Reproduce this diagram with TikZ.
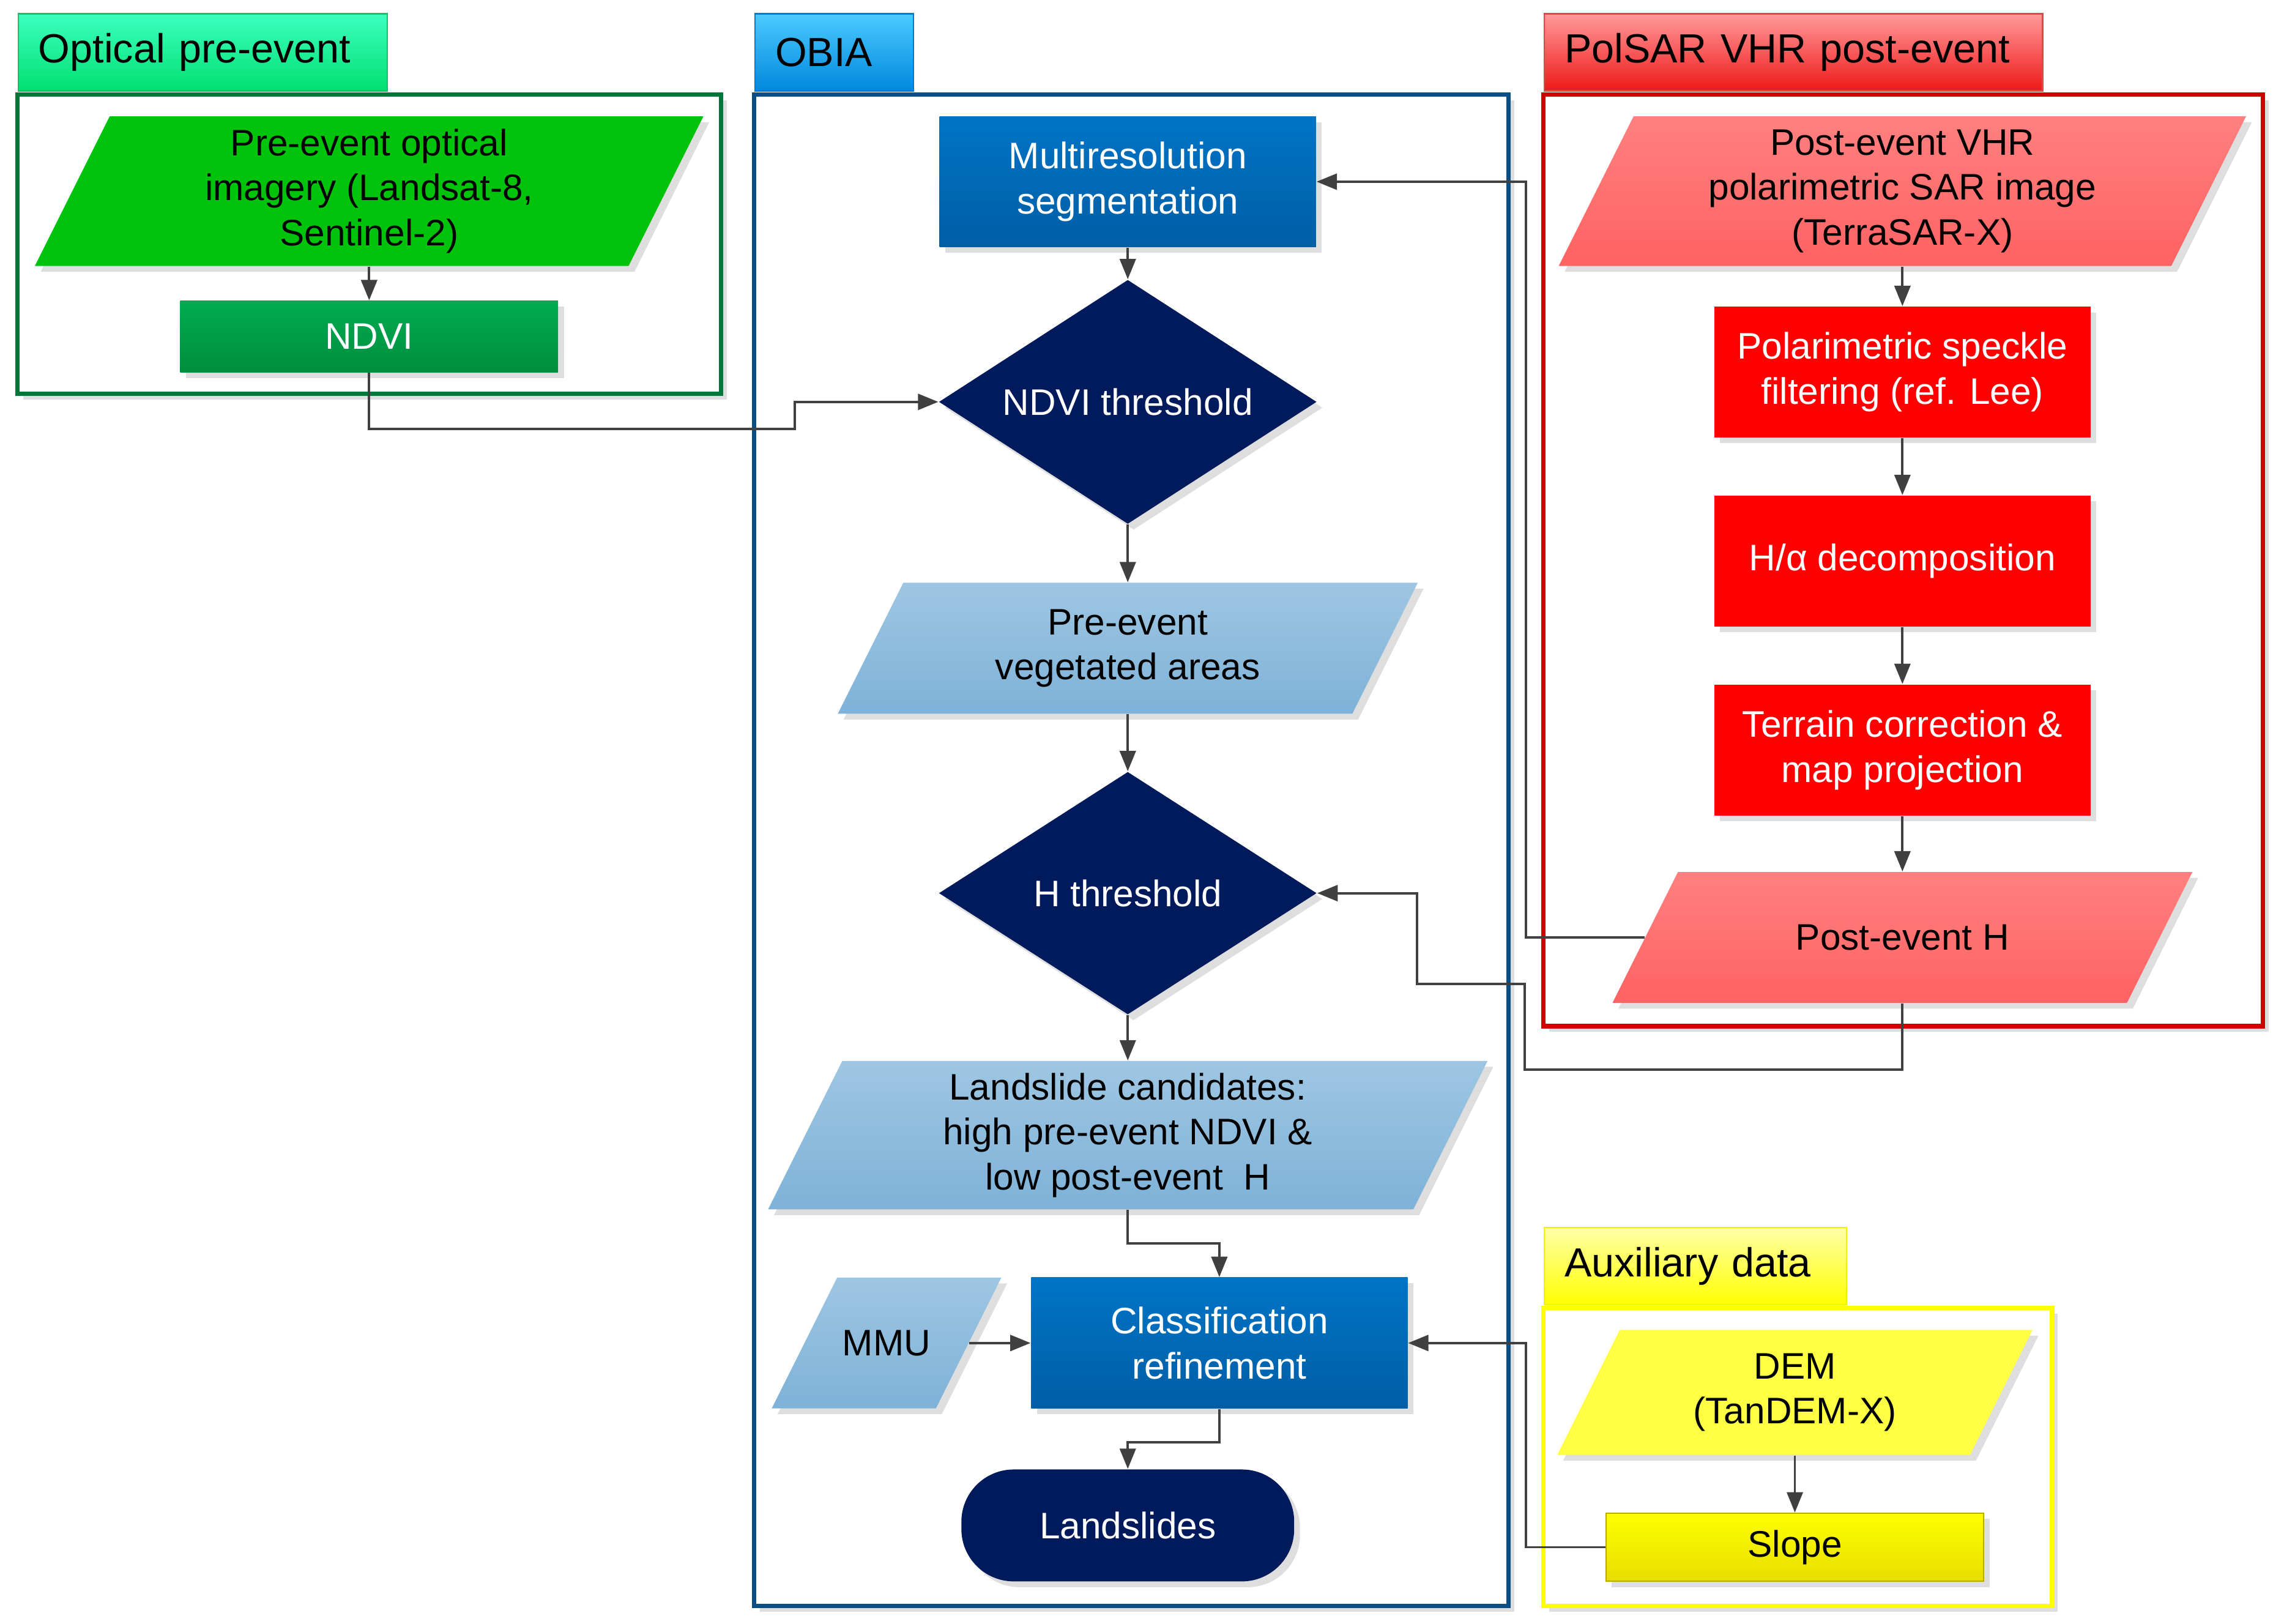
\documentclass[tikz,border=0pt]{standalone}
\usepackage{fontspec}
\setmainfont{Liberation Sans}
\usetikzlibrary{arrows.meta,shapes.geometric,shadows}
\definecolor{arrowgray}{HTML}{404040}
\definecolor{optframe}{HTML}{00773A}
\definecolor{obiaframe}{HTML}{0B4E86}
\definecolor{sarframe}{HTML}{D00000}
\definecolor{auxframe}{HTML}{FFFF00}
\definecolor{navy}{HTML}{001A5C}
\definecolor{optgreen}{HTML}{00C40C}
\definecolor{sarred}{HTML}{FF0000}
\definecolor{opttabline}{HTML}{00C866}
\definecolor{opttabtop}{HTML}{3DFFC0}
\definecolor{opttabbot}{HTML}{00E070}
\definecolor{obiatabline}{HTML}{0A78C8}
\definecolor{obiatabtop}{HTML}{4CCBFF}
\definecolor{obiatabbot}{HTML}{0088DD}
\definecolor{sartabline}{HTML}{E04848}
\definecolor{sartabtop}{HTML}{FF9A9A}
\definecolor{sartabbot}{HTML}{F01818}
\definecolor{auxtabline}{HTML}{F2F200}
\definecolor{auxtabtop}{HTML}{FFFFA8}
\definecolor{auxtabbot}{HTML}{FFFF00}
\definecolor{ndvitop}{HTML}{00AC52}
\definecolor{ndvibot}{HTML}{008E3E}
\definecolor{bluetop}{HTML}{0074C6}
\definecolor{bluebot}{HTML}{005EA6}
\definecolor{skytop}{HTML}{9EC6E2}
\definecolor{skybot}{HTML}{7EB2D8}
\definecolor{pinktop}{HTML}{FF8080}
\definecolor{pinkbot}{HTML}{FF6262}
\definecolor{demyellow}{HTML}{FFFF44}
\definecolor{slopeline}{HTML}{B8A800}
\definecolor{slopetop}{HTML}{FFFF00}
\definecolor{slopebot}{HTML}{E6DE00}
% parallelogram: style, name, x, y, width, height, text
\newcommand{\datanode}[7]{%
  \pgfmathsetmacro\paraoff{0.5*#6}%
  \path[#1, shd] ({#3-#5/2},{#4+#6/2}) -- ({#3+#5/2-\paraoff},{#4+#6/2})
    -- ({#3+#5/2},{#4-#6/2}) -- ({#3-#5/2+\paraoff},{#4-#6/2}) -- cycle;
  \node[databody, minimum width={(#5-\paraoff)*0.5pt},
    minimum height={#6*0.5pt}] (#2) at (#3,#4) {#7};
}

\begin{document}
\begin{tikzpicture}[
  x=0.5pt, y=-0.5pt,
  font=\fontsize{12.7}{15.5}\selectfont,
  shd/.style={
    drop shadow={shadow xshift=2pt, shadow yshift=-2pt,
      fill=black!13, opacity=1}
  },
  tab/.style={
    rectangle, anchor=south west, line width=0.5pt,
    inner xsep=7pt, inner ysep=0pt, minimum height=26.5pt,
    text width=#1, align=left, font=\fontsize{14}{16}\selectfont
  },
  frame/.style={fill=white, line width=1.5pt, shd},
  proc/.style={
    rectangle, shd, text=white, align=center, inner sep=0pt,
    minimum width=129.5pt, minimum height=45pt
  },
  databody/.style={rectangle, align=center, inner sep=0pt},
  dec/.style={
    diamond, aspect=1.54, fill=navy, shd, text=white, inner sep=0pt,
    minimum width=130pt, minimum height=84pt
  },
  conn/.style={
    draw=arrowgray, line width=0.8pt,
    -{Triangle[length=7pt, width=5.5pt]}
  }
]
  \useasboundingbox (0,0) rectangle (1564,1117);

  \draw[frame, draw=optframe] (12,65) rectangle (496,271);
  \draw[frame, draw=obiaframe] (519,65) rectangle (1038,1105);
  \draw[frame, draw=sarframe] (1062,65) rectangle (1557,706);
  \draw[frame, draw=auxframe] (1062,900) rectangle (1412,1105);

  \node[tab=113pt, draw=opttabline, top color=opttabtop,
    bottom color=opttabbot] (opttab) at (12,63) {Optical pre-event};
  \node[tab=40.5pt, draw=obiatabline, top color=obiatabtop,
    bottom color=obiatabbot] (obiatab) at (519,63) {OBIA};
  \node[tab=157.5pt, draw=sartabline, top color=sartabtop,
    bottom color=sartabbot] (sartab) at (1062,63) {PolSAR VHR post-event};
  \node[tab=90pt, draw=auxtabline, top color=auxtabtop,
    bottom color=auxtabbot] (auxtab) at (1062,898) {Auxiliary data};

  \datanode{fill=optgreen}{opt}{254}{131.5}{460}{103}
    {Pre-event optical\\imagery (Landsat-8,\\Sentinel-2)}
  \node[proc, top color=ndvitop, bottom color=ndvibot,
    minimum width=130pt, minimum height=24.5pt] (ndvi) at (254,231.5) {NDVI};

  \node[proc, top color=bluetop, bottom color=bluebot]
    (multires) at (776,125) {Multiresolution\\segmentation};
  \node[dec] (ndvithr) at (776,276.5) {NDVI threshold};
  \datanode{top color=skytop, bottom color=skybot}{veg}{776}{446}{399}{90}
    {Pre-event\\vegetated areas}
  \node[dec, minimum height=83.5pt] (hthr) at (776,614.5) {H threshold};
  \datanode{top color=skytop, bottom color=skybot}{cand}{776}{781}{495}{102}
    {Landslide candidates:\\high pre-event NDVI \&\\low post-event~ H}
  \datanode{top color=skytop, bottom color=skybot}{mmu}{610}{924}{158}{90}
    {MMU}
  \node[proc, top color=bluetop, bottom color=bluebot]
    (classif) at (839,924) {Classification\\refinement};
  \node[proc, fill=navy, rounded corners=18pt, minimum width=114.5pt,
    minimum height=38.5pt] (landsl) at (776,1049.5) {Landslides};

  \datanode{top color=pinktop, bottom color=pinkbot}{tsx}{1309}{131.5}{473}{103}
    {Post-event VHR\\polarimetric SAR image\\(TerraSAR-X)}
  \node[proc, fill=sarred] (speckle) at (1309,256)
    {Polarimetric speckle\\filtering (ref. Lee)};
  \node[proc, fill=sarred] (halpha) at (1309,386) {H/α decomposition};
  \node[proc, fill=sarred] (terrain) at (1309,516)
    {Terrain correction \&\\map projection};
  \datanode{top color=pinktop, bottom color=pinkbot}{posth}{1309}{645}{399}{90}
    {Post-event H}

  \datanode{fill=demyellow}{dem}{1235}{958}{327}{86}{DEM\\(TanDEM-X)}
  \node[proc, text=black, draw=slopeline, line width=0.4pt,
    top color=slopetop, bottom color=slopebot,
    minimum width=130pt, minimum height=23.5pt] (slope) at (1235,1064.5) {Slope};

  \draw[conn] (opt) -- (ndvi);
  \draw[conn] (ndvi.south) |- (547,295) |- (ndvithr.west);
  \draw[conn] (multires) -- (ndvithr);
  \draw[conn] (ndvithr) -- (veg);
  \draw[conn] (veg) -- (hthr);
  \draw[conn] (hthr) -- (cand);
  \draw[conn] (cand.south) -- ++(0,23) -| (classif.north);
  \draw[conn] (mmu.east) -- (classif.west);
  \draw[conn] (classif.south) -- ++(0,23) -| (landsl.north);
  \draw[conn] (tsx) -- (speckle);
  \draw[conn] (speckle) -- (halpha);
  \draw[conn] (halpha) -- (terrain);
  \draw[conn] (terrain) -- (posth);
  \draw[conn] (posth.west) -| (1050,125) -- (multires.east);
  \draw[conn] (posth.south) |- (1049,736) -- (1049,677) -| (975,614.5)
    -- (hthr.east);
  \draw[conn] (dem) -- (slope);
  \draw[conn] (slope.west) -| (1050,924) -- (classif.east);
\end{tikzpicture}
\end{document}
